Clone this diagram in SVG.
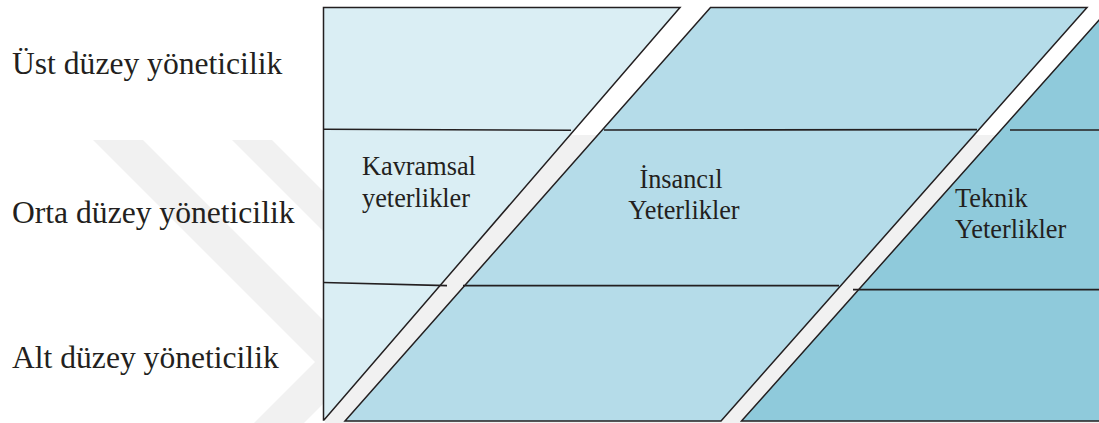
<svg xmlns="http://www.w3.org/2000/svg" width="1099" height="423" viewBox="0 0 1099 423">
<style>
.edge{stroke:#231F20;stroke-width:1.5;stroke-linejoin:miter}
.div{stroke:#231F20;stroke-width:1.6;fill:none}
.wm{fill:#F1F1F1}
text{font-family:"Liberation Serif","Times New Roman","DejaVu Serif",serif;fill:#231F20}
.big{font-size:31.6px}
.small{font-size:26.3px}
</style>
<rect width="1099" height="423" fill="#FFFFFF"/>
<g id="watermark">
<polygon class="wm" points="93,140 143,140 365,362 304,423 254,423 315,362"/>
<polygon class="wm" points="232,140 272,140 400,268 360,268"/>
<rect class="wm" x="325" y="135" width="774" height="288"/>
</g>
<g id="kavramsal">
<polygon class="edge" fill="#DAEEF4" points="323.5,7.5 680,7.5 324,420 323.5,420"/>
<text class="small" x="362" y="175" font-family="Liberation Serif, serif">Kavramsal</text>
<text class="small" x="362" y="206.5" font-family="Liberation Serif, serif">yeterlikler</text>
</g>
<g id="insancil">
<polygon class="edge" fill="#B5DCE9" points="710.5,7.5 1087,7.5 721,421 345,421"/>
<text class="small" x="681" y="188" text-anchor="middle" font-family="Liberation Serif, serif">İnsancıl</text>
<text class="small" x="684" y="219" text-anchor="middle" font-family="Liberation Serif, serif">Yeterlikler</text>
</g>
<g id="teknik">
<polygon class="edge" fill="#8FCADB" points="1110.6,7 1120,7 1120,421 741.5,421"/>
<text class="small" x="955" y="206.5" font-family="Liberation Serif, serif">Teknik</text>
<text class="small" x="955" y="238" font-family="Liberation Serif, serif">Yeterlikler</text>
</g>
<g id="dividers">
<line class="div" x1="323.5" y1="129.3" x2="571" y2="130.3"/>
<line class="div" x1="323.5" y1="282.5" x2="447" y2="285.6"/>
<line class="div" x1="604" y1="130" x2="977" y2="129.6"/>
<line class="div" x1="463" y1="285.6" x2="839" y2="285.6"/>
<line class="div" x1="1010" y1="130" x2="1099" y2="130"/>
<line class="div" x1="853" y1="289.6" x2="1099" y2="289.6"/>
</g>
<g id="levels">
<text class="big" x="12" y="73.5" font-family="Liberation Serif, serif">Üst düzey yöneticilik</text>
<text class="big" x="12" y="223" font-family="Liberation Serif, serif">Orta düzey yöneticilik</text>
<text class="big" x="12" y="368" font-family="Liberation Serif, serif">Alt düzey yöneticilik</text>
</g>
</svg>
